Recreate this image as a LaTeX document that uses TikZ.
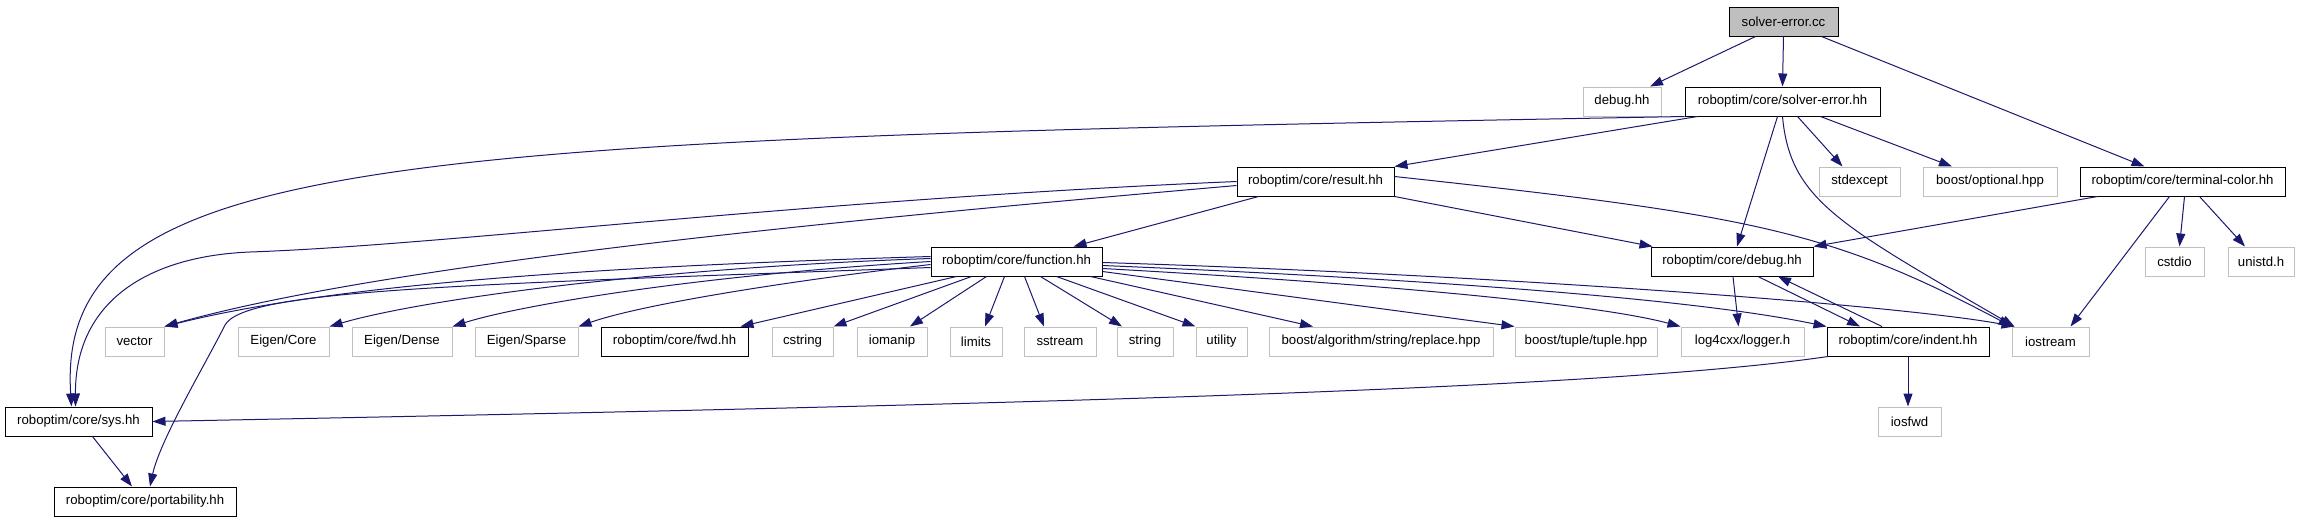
\documentclass[tikz,border=0pt]{standalone}
\usepackage{fontspec}
\setmainfont{Liberation Sans}
\usepackage{tikz}
\usetikzlibrary{arrows.meta}
\definecolor{edgeblue}{HTML}{191970}
\definecolor{extgray}{HTML}{BFBFBF}

\begin{document}
\begin{tikzpicture}[x=1pt,y=-1pt,
  file/.style={draw=black,line width=1pt,fill=white,minimum height=29,inner sep=0pt,
    font=\fontsize{13.2}{15}\selectfont},
  ext/.style={file,draw=extgray},
  top/.style={file,fill=extgray},
  dep/.style={draw=edgeblue,line width=1pt,-{Triangle[length=13pt,width=9pt]}}]
\useasboundingbox (0,0) rectangle (2297,523);

\node[top,minimum width=109] (sec) at (1783.5,21.5) {solver-error.cc};
\node[ext,minimum width=78] (dbg) at (1622,101.5) {debug.hh};
\node[file,minimum width=195] (seh) at (1782.5,101.5) {roboptim/core/solver-error.hh};
\node[file,minimum width=157] (result) at (1315.5,181.5) {roboptim/core/result.hh};
\node[ext,minimum width=81] (stdexc) at (1859.5,181.5) {stdexcept};
\node[ext,minimum width=134] (optional) at (1990,181.5) {boost/optional.hpp};
\node[file,minimum width=205] (tch) at (2182.5,181.5) {roboptim/core/terminal-color.hh};
\node[file,minimum width=171] (fn) at (1016.5,261.5) {roboptim/core/function.hh};
\node[file,minimum width=162] (cdbg) at (1732,261.5) {roboptim/core/debug.hh};
\node[ext,minimum width=59] (cstdio) at (2174.5,261.5) {cstdio};
\node[ext,minimum width=66] (unistd) at (2261,261.5) {unistd.h};
\node[ext,minimum width=59] (vector) at (134.5,341.5) {vector};
\node[ext,minimum width=91] (core) at (283.5,341.5) {Eigen/Core};
\node[ext,minimum width=100] (dense) at (402,341.5) {Eigen/Dense};
\node[ext,minimum width=103] (sparse) at (526.5,341.5) {Eigen/Sparse};
\node[file,minimum width=147] (fwd) at (674.5,341.5) {roboptim/core/fwd.hh};
\node[ext,minimum width=61] (cstring) at (802.5,341.5) {cstring};
\node[ext,minimum width=70] (iomanip) at (892,341.5) {iomanip};
\node[ext,minimum width=52] (limits) at (976,341.5) {limits};
\node[ext,minimum width=72] (sstream) at (1060,341.5) {sstream};
\node[ext,minimum width=56] (string) at (1145,341.5) {string};
\node[ext,minimum width=51] (utility) at (1221.5,341.5) {utility};
\node[ext,minimum width=224] (replace) at (1381,341.5) {boost/algorithm/string/replace.hpp};
\node[ext,minimum width=142] (tuple) at (1586,341.5) {boost/tuple/tuple.hpp};
\node[ext,minimum width=123] (logger) at (1742.5,341.5) {log4cxx/logger.h};
\node[file,minimum width=162] (indent) at (1908,341.5) {roboptim/core/indent.hh};
\node[ext,minimum width=77] (iostream) at (2050.5,341.5) {iostream};
\node[file,minimum width=147] (sys) at (78.5,421.5) {roboptim/core/sys.hh};
\node[ext,minimum width=63] (iosfwd) at (1909.5,421.5) {iosfwd};
\node[file,minimum width=182] (portab) at (145,501.5) {roboptim/core/portability.hh};

\draw[dep] ([xshift=-28]sec.south) -- ([xshift=28]dbg.north);
\draw[dep] (sec.south) -- (seh.north);
\draw[dep] ([xshift=38]sec.south) -- ([xshift=-38]tch.north);

\draw[dep] (seh.south west) .. controls (400,140) and (55,150) .. ([xshift=-7]sys.north);
\draw[dep] ([xshift=-85]seh.south) -- (result.north east);
\draw[dep] ([xshift=-5]seh.south) -- ([xshift=5]cdbg.north);
\draw[dep] (seh.south) .. controls (1790,200) and (1840,225) .. ([xshift=-36]iostream.north);
\draw[dep] ([xshift=15]seh.south) -- ([xshift=-17]stdexc.north);
\draw[dep] ([xshift=38]seh.south) -- ([xshift=-38]optional.north);

\draw[dep] (result.west) .. controls (800,200) and (450,245) .. (250,252)
  .. controls (150,256) and (75,300) .. ([xshift=-3]sys.north);
\draw[dep] ([yshift=-4]result.west) .. controls (900,215) and (400,260) .. (vector.north east);
\draw[dep] ([xshift=-57]result.south) -- ([xshift=57]fn.north);
\draw[dep] (result.south east) -- ([xshift=2]cdbg.north west);
\draw[dep] ([yshift=5]result.east) .. controls (1750,215) and (1830,230) .. (iostream.north west);

\draw[dep] ([xshift=-85]tch.south) -- (cdbg.north east);
\draw[dep] ([xshift=-13]tch.south) -- ([xshift=20]iostream.north);
\draw[dep] ([xshift=2]tch.south) -- ([xshift=5]cstdio.north);
\draw[dep] ([xshift=17]tch.south) -- ([xshift=-16]unistd.north);

\draw[dep] ([yshift=5]fn.west) .. controls (650,265) and (350,280) .. (vector.north east);
\draw[dep] ([yshift=3]fn.west) .. controls (650,268) and (420,300) .. (core.north east);
\draw[dep] (fn.west) .. controls (700,275) and (520,305) .. (dense.north east);
\draw[dep] ([yshift=-3]fn.west) .. controls (780,282) and (640,305) .. (sparse.north east);
\draw[dep] ([yshift=-6]fn.west) .. controls (450,285) and (245,290) .. (225,325)
  .. controls (205,365) and (160,440) .. ([xshift=5]portab.north);
\draw[dep] ([xshift=-60]fn.south) -- ([xshift=66]fwd.north);
\draw[dep] ([xshift=-45]fn.south) -- (cstring.north east);
\draw[dep] ([xshift=-30]fn.south) -- ([xshift=18]iomanip.north);
\draw[dep] ([xshift=-12]fn.south) -- ([xshift=9]limits.north);
\draw[dep] ([xshift=8]fn.south) -- ([xshift=-16]sstream.north);
\draw[dep] ([xshift=24]fn.south) -- ([xshift=-23]string.north);
\draw[dep] ([xshift=40]fn.south) -- (utility.north west);
\draw[dep] ([xshift=74]fn.south) -- ([xshift=-68]replace.north);
\draw[dep] ([yshift=-10]fn.east) -- (tuple.north west);
\draw[dep] ([yshift=-7]fn.east) .. controls (1400,285) and (1600,305) .. (logger.north west);
\draw[dep] ([yshift=-4]fn.east) .. controls (1450,280) and (1700,300) .. (indent.north west);
\draw[dep] ([yshift=-1]fn.east) .. controls (1500,275) and (1900,305) .. ([xshift=-36]iostream.north);

\draw[dep] ([xshift=1]cdbg.south) -- ([xshift=-4]logger.north);
\draw[dep] ([xshift=26]cdbg.south) -- ([xshift=-48]indent.north);
\draw[dep] ([xshift=-26]indent.north) -- ([xshift=46]cdbg.south);
\draw[dep] ([xshift=-80]indent.south) .. controls (1600,390) and (1000,405) .. (sys.east);
\draw[dep] (indent.south) -- ([xshift=-1.5]iosfwd.north);
\draw[dep] ([xshift=14]sys.south) -- ([xshift=-13]portab.north);
\end{tikzpicture}
\end{document}
